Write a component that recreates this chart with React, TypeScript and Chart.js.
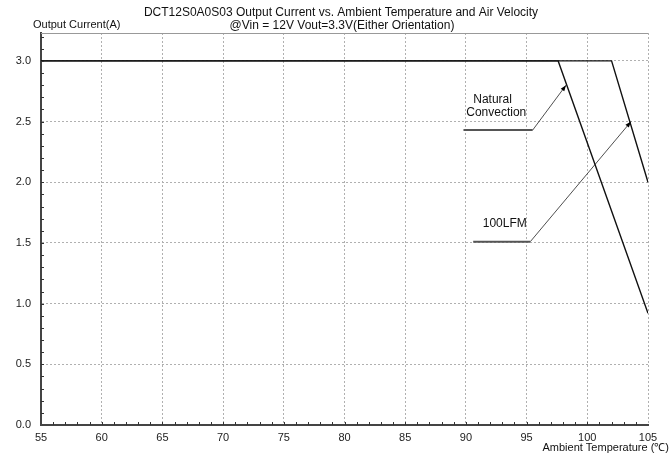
import React, { useEffect, useRef } from "react";
import { Chart, registerables } from "chart.js";

Chart.register(...registerables);

const titleLines = [
  "DCT12S0A0S03 Output Current vs. Ambient Temperature and Air Velocity",
  "@Vin = 12V Vout=3.3V(Either Orientation)",
];
const yAxisTitle = "Output Current(A)";
const xAxisTitle = "Ambient Temperature (℃)";

const xMin = 55;
const xMax = 105;
const yMin = 0;
const yMax = 3.23;
const xTickValues = [55, 60, 65, 70, 75, 80, 85, 90, 95, 100, 105];
const yTickValues = [0, 0.5, 1.0, 1.5, 2.0, 2.5, 3.0];

const naturalX = [55, 97.6, 105];
const naturalY = [3.0, 3.0, 0.92];
const lfmX = [55, 102.0, 105];
const lfmY = [3.0, 3.0, 2.0];

const natLeaderX = [89.8, 95.5, 98.25];
const natLeaderY = [2.43, 2.43, 2.8];
const lfmLeaderX = [90.6, 95.3, 103.6];
const lfmLeaderY = [1.51, 1.51, 2.5];

const natLabelLines = ["Natural", "Convection"];
const natLabelX = [92.2, 92.5];
const natLabelY = [2.68, 2.57];
const lfmLabel = "100LFM";
const lfmLabelX = 93.2;
const lfmLabelY = 1.66;

const FONT = "'Liberation Sans', Arial, sans-serif";

const toPts = (xs: number[], ys: number[]) => xs.map((x, i) => ({ x, y: ys[i] }));

const decorPlugin = {
  id: "decor",
  afterDatasetsDraw(chart: any) {
    const ctx = chart.ctx;
    const xs = chart.scales.x;
    const ys = chart.scales.y;
    const area = chart.chartArea;
    ctx.save();
    // top frame line
    ctx.strokeStyle = "#999";
    ctx.lineWidth = 1;
    ctx.beginPath();
    ctx.moveTo(area.left, Math.round(area.top) + 0.5);
    ctx.lineTo(area.right, Math.round(area.top) + 0.5);
    ctx.stroke();
    // minor ticks
    ctx.strokeStyle = "#333";
    ctx.lineWidth = 1;
    for (let v = xMin + 1; v < xMax; v += 1) {
      const px = Math.round(xs.getPixelForValue(v)) + 0.5;
      ctx.beginPath();
      ctx.moveTo(px, area.bottom);
      ctx.lineTo(px, area.bottom - 3);
      ctx.stroke();
    }
    for (let i = 1; i <= 32; i++) {
      const v = i / 10;
      const py = Math.round(ys.getPixelForValue(v)) + 0.5;
      ctx.beginPath();
      ctx.moveTo(area.left, py);
      ctx.lineTo(area.left + 3, py);
      ctx.stroke();
    }
    // arrowheads
    const arrow = (lx: number[], ly: number[]) => {
      const n = lx.length;
      const x1 = xs.getPixelForValue(lx[n - 2]);
      const y1 = ys.getPixelForValue(ly[n - 2]);
      const x2 = xs.getPixelForValue(lx[n - 1]);
      const y2 = ys.getPixelForValue(ly[n - 1]);
      const a = Math.atan2(y2 - y1, x2 - x1);
      const L = 6, W = 2.2;
      ctx.fillStyle = "#000";
      ctx.beginPath();
      ctx.moveTo(x2, y2);
      ctx.lineTo(x2 - L * Math.cos(a) + W * Math.sin(a), y2 - L * Math.sin(a) - W * Math.cos(a));
      ctx.lineTo(x2 - L * Math.cos(a) - W * Math.sin(a), y2 - L * Math.sin(a) + W * Math.cos(a));
      ctx.closePath();
      ctx.fill();
    };
    arrow(natLeaderX, natLeaderY);
    arrow(lfmLeaderX, lfmLeaderY);
    // labels
    ctx.fillStyle = "#111";
    ctx.font = `12px ${FONT}`;
    ctx.textAlign = "center";
    ctx.textBaseline = "middle";
    natLabelLines.forEach((t, i) => {
      ctx.fillText(t, xs.getPixelForValue(natLabelX[i]), ys.getPixelForValue(natLabelY[i]));
    });
    ctx.fillText(lfmLabel, xs.getPixelForValue(lfmLabelX), ys.getPixelForValue(lfmLabelY));
    // titles
    ctx.font = `12px ${FONT}`;
    ctx.fillText(titleLines[0], 341, 13);
    ctx.fillText(titleLines[1], 342, 26);
    ctx.font = `11px ${FONT}`;
    ctx.textAlign = "left";
    ctx.fillText(yAxisTitle, 33, 25);
    ctx.textAlign = "right";
    ctx.fillText(xAxisTitle, 669, 448);
    ctx.restore();
  },
};

export default function App() {
  const ref = useRef<HTMLCanvasElement | null>(null);
  useEffect(() => {
    if (!ref.current) return;
    const chart = new Chart(ref.current, {
      type: "line",
      data: {
        datasets: [
          {
            label: "Natural Convection",
            data: toPts(naturalX, naturalY),
            borderColor: "#111",
            borderWidth: 1.4,
            pointRadius: 0,
            tension: 0,
          },
          {
            label: "100LFM",
            data: toPts(lfmX, lfmY),
            borderColor: "#111",
            borderWidth: 1.4,
            pointRadius: 0,
            tension: 0,
          },
          {
            label: "nat-leader-h",
            data: toPts(natLeaderX.slice(0, 2), natLeaderY.slice(0, 2)),
            borderColor: "#555",
            borderWidth: 2,
            pointRadius: 0,
          },
          {
            label: "nat-leader-d",
            data: toPts(natLeaderX.slice(1), natLeaderY.slice(1)),
            borderColor: "#222",
            borderWidth: 0.8,
            pointRadius: 0,
          },
          {
            label: "lfm-leader-h",
            data: toPts(lfmLeaderX.slice(0, 2), lfmLeaderY.slice(0, 2)),
            borderColor: "#555",
            borderWidth: 2,
            pointRadius: 0,
          },
          {
            label: "lfm-leader-d",
            data: toPts(lfmLeaderX.slice(1), lfmLeaderY.slice(1)),
            borderColor: "#222",
            borderWidth: 0.8,
            pointRadius: 0,
          },
        ],
      },
      options: {
        animation: false,
        responsive: false,
        events: [],
        layout: { padding: { top: 33, right: 23, left: 0, bottom: 0 } },
        plugins: {
          legend: { display: false },
          tooltip: { enabled: false },
          title: { display: false },
        },
        scales: {
          x: {
            type: "linear",
            min: xMin,
            max: xMax,
            afterBuildTicks: (s: any) => {
              s.ticks = xTickValues.map((v) => ({ value: v }));
            },
            afterFit: (s: any) => {
              s.height = 28;
            },
            ticks: {
              color: "#222",
              font: { family: FONT, size: 11 },
              padding: 6,
              maxRotation: 0,
              callback: (v: any) => String(v),
            },
            grid: {
              color: "#b0b0b0",
              lineWidth: 1,
              drawTicks: false,
              tickLength: 0,
            },
            border: { display: true, color: "#444", width: 2, dash: [2, 2] },
          },
          y: {
            type: "linear",
            min: yMin,
            max: yMax,
            afterBuildTicks: (s: any) => {
              s.ticks = yTickValues.map((v) => ({ value: v }));
            },
            afterFit: (s: any) => {
              s.width = 41;
            },
            ticks: {
              color: "#222",
              font: { family: FONT, size: 11 },
              padding: 10,
              callback: (v: any) => Number(v).toFixed(1),
            },
            grid: {
              color: "#b0b0b0",
              lineWidth: 1,
              drawTicks: false,
              tickLength: 0,
            },
            border: { display: true, color: "#444", width: 2, dash: [2, 2] },
          },
        },
      } as any,
      plugins: [decorPlugin],
    });
    return () => chart.destroy();
  }, []);
  return (
    <div style={{ position: "absolute", left: 0, top: 0, width: 671, height: 453, background: "#fff" }}>
      <canvas ref={ref} width={671} height={453} style={{ width: 671, height: 453 }} />
    </div>
  );
}
